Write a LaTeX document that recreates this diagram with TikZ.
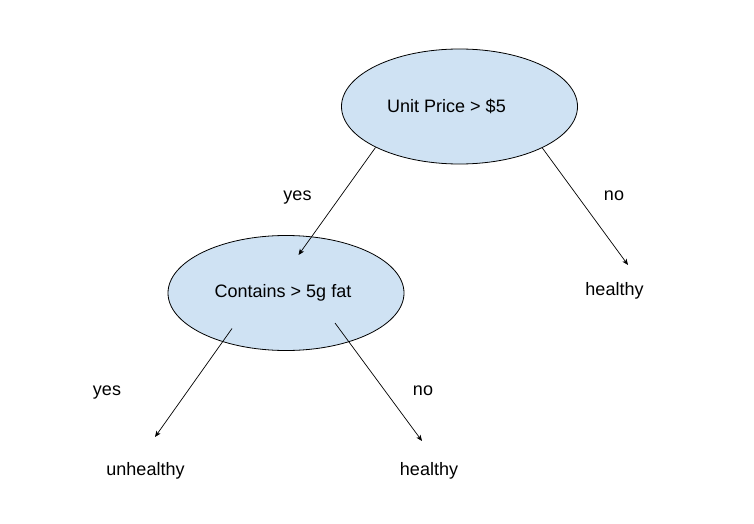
\documentclass[tikz,border=0pt]{standalone}
\usepackage{fontspec}
\setmainfont{Liberation Sans}
\usetikzlibrary{arrows.meta,shapes.geometric}
\definecolor{nodefill}{HTML}{CFE2F3}
\begin{document}
\begin{tikzpicture}[x=1pt,y=-1pt,
  decision/.style={ellipse,draw=black,fill=nodefill,line width=0.8pt,
    minimum width=236pt,minimum height=115pt,inner sep=0pt,font=\fontsize{18}{22}\selectfont},
  lbl/.style={inner sep=0pt,anchor=base,font=\fontsize{18}{22}\selectfont},
  conn/.style={line width=0.7pt,-{Stealth[length=6pt,width=5pt,inset=1.5pt]}}]
\useasboundingbox (0,0) rectangle (754,524);
\node[decision] (n1) at (459.5,106.5) {Unit Price > \$5\kern26pt};
\node[decision] (n2) at (286,293) {Contains > 5g fat\kern6pt};
\node[lbl] (y1) at (297.5,200) {yes};
\node[lbl] (no1) at (614,200) {no};
\node[lbl] (h1) at (614.5,295) {healthy};
\node[lbl] (y2) at (107,395.5) {yes};
\node[lbl] (no2) at (423,395.5) {no};
\node[lbl] (u2) at (145.5,475) {unhealthy};
\node[lbl] (h2) at (429,475) {healthy};
\coordinate (s1) at (375.5,147.5);
\coordinate (t1) at (298.5,255);
\coordinate (s2) at (542,147.5);
\coordinate (t2) at (628,265);
\coordinate (s3) at (232,328.5);
\coordinate (t3) at (155,437);
\coordinate (s4) at (335,323);
\coordinate (t4) at (422,441);
\draw[conn] (s1) -- (t1);
\draw[conn] (s2) -- (t2);
\draw[conn] (s3) -- (t3);
\draw[conn] (s4) -- (t4);
\end{tikzpicture}
\end{document}
